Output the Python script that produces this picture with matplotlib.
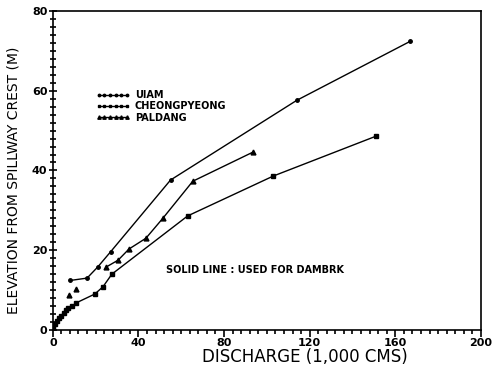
import numpy as np
import matplotlib.pyplot as plt
from matplotlib.ticker import MultipleLocator

# UIAM (upper curve)
uiam_q = [8, 16, 21, 27, 55, 114, 167]
uiam_h = [12.4, 13.0, 15.8, 19.6, 37.6, 57.6, 72.4]

# CHEONGPYEONG (lower curve)
cheong_q = [0, 1, 2, 3, 4, 5, 6, 7, 9, 11, 19.6, 23.4, 27.6, 63, 103, 151]
cheong_h = [0.5, 1.4, 2.2, 2.9, 3.6, 4.3, 4.9, 5.4, 5.9, 6.8, 9.0, 10.8, 14.0, 28.6, 38.6, 48.6]

# PALDANG (middle curve), first two points drawn as markers only
pal_pts_q = [7.5, 10.7]
pal_pts_h = [8.8, 10.3]
pal_q = [25, 30.5, 35.6, 43.5, 51.4, 65.4, 93.5]
pal_h = [15.8, 17.5, 20.3, 23.0, 28.0, 37.3, 44.6]

fig = plt.figure(figsize=(5.03, 3.67), dpi=100)
ax = fig.add_axes([0.105, 0.101, 0.851, 0.869])

ax.plot(uiam_q, uiam_h, color='black', lw=1, marker='o', ms=2.5, label='UIAM')
ax.plot(cheong_q, cheong_h, color='black', lw=1, marker='s', ms=3.0, label='CHEONGPYEONG')
ax.plot(pal_q, pal_h, color='black', lw=1, marker='^', ms=3.5, label='PALDANG')
ax.plot(pal_pts_q, pal_pts_h, color='black', lw=0, marker='^', ms=3.5)

ax.set_xlim(0, 200)
ax.set_ylim(0, 80)
ax.xaxis.set_major_locator(MultipleLocator(40))
ax.xaxis.set_minor_locator(MultipleLocator(4))
ax.yaxis.set_major_locator(MultipleLocator(20))
ax.yaxis.set_minor_locator(MultipleLocator(2))
ax.tick_params(axis='x', which='both', direction='out', labelsize=8, width=1.2)
ax.tick_params(axis='x', which='major', length=5, pad=1)
ax.tick_params(axis='x', which='minor', length=3)
ax.tick_params(axis='y', which='both', direction='inout', labelsize=8, width=1.2)
ax.tick_params(axis='y', which='major', length=6, pad=1)
ax.tick_params(axis='y', which='minor', length=4)
for lab in ax.get_xticklabels() + ax.get_yticklabels():
    lab.set_fontweight('bold')
for sp in ax.spines.values():
    sp.set_linewidth(1.2)

ax.set_xlabel('DISCHARGE (1,000 CMS)', fontsize=12, labelpad=0)
ax.xaxis.set_label_coords(0.59, -0.058)
ax.xaxis.label.set_va('top')
ax.set_ylabel('ELEVATION FROM SPILLWAY CREST (M)', fontsize=10, labelpad=2)
ax.yaxis.set_label_coords(-0.075, 0.47)

ax.text(53, 15, 'SOLID LINE : USED FOR DAMBRK', fontsize=7, fontweight='bold',
        va='center', ha='left')

leg = ax.legend(loc='upper left', bbox_to_anchor=(0.08, 0.78), frameon=False,
                numpoints=6, handlelength=3.5, handletextpad=0.5, markerscale=0.7,
                labelspacing=0.15, prop={'size': 7, 'weight': 'bold'})

fig.savefig('out.png', dpi=100)
